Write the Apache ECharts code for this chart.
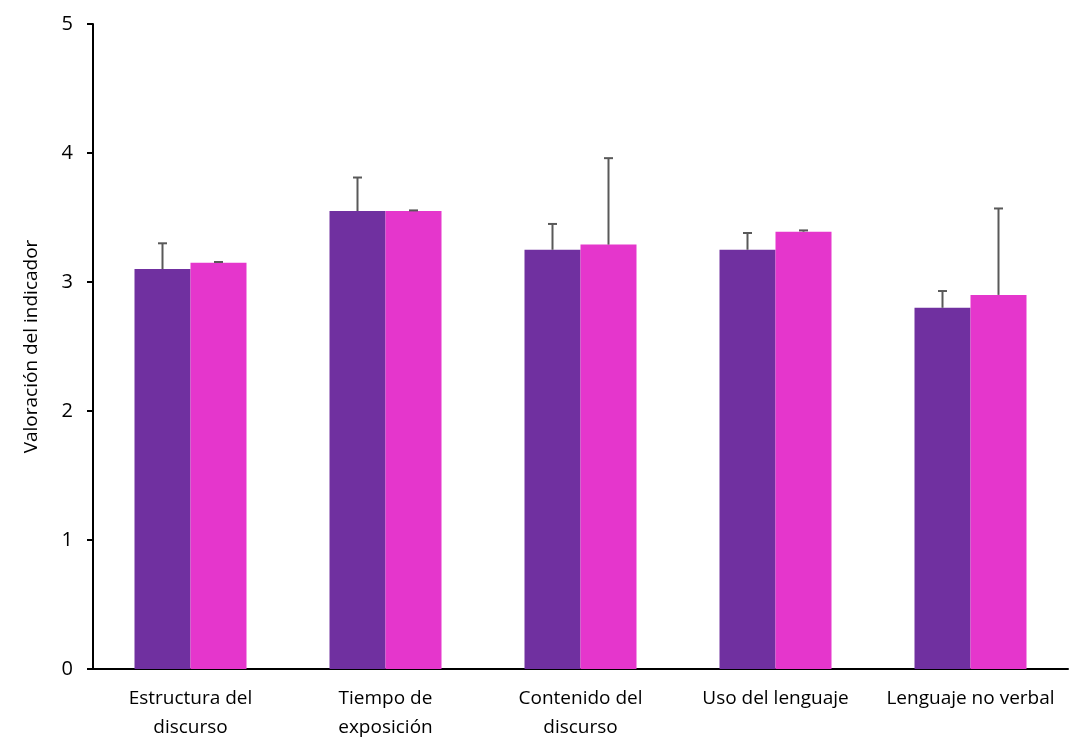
<!DOCTYPE html>
<html>
<head>
<meta charset="utf-8">
<script src="https://cdn.jsdelivr.net/npm/echarts@6/dist/echarts.min.js"></script>
<style>
  html, body { margin: 0; padding: 0; background: #fff; }
  #chart { width: 1092px; height: 753px; }
</style>
</head>
<body>
<div id="chart"></div>
<script>
// Data
var categories = ['Estructura del\ndiscurso', 'Tiempo de\nexposición', 'Contenido del\ndiscurso', 'Uso del lenguaje', 'Lenguaje no verbal'];
var serieA = [3.10, 3.55, 3.25, 3.25, 2.80];
var serieB = [3.15, 3.55, 3.29, 3.39, 2.90];
var errorA = [0.20, 0.26, 0.20, 0.13, 0.13];
var errorB = [0.005, 0.005, 0.67, 0.01, 0.67];
var yTicks = [0, 1, 2, 3, 4, 5];

var colorA = '#7030a0';
var colorB = '#e536cc';
var barW = 56;

var chart = echarts.init(document.getElementById('chart'), null, { renderer: 'canvas' });

// error bar drawn above each bar, shifted to the bar's centre
function errorItem(values, errors, offset) {
  return function (params, api) {
    var i = api.value(0);
    var top = api.coord([i, values[i] + errors[i]]);
    var base = api.coord([i, values[i]]);
    var x = top[0] + offset;
    var style = { stroke: '#595959', lineWidth: 2 };
    return {
      type: 'group',
      children: [
        { type: 'line', shape: { x1: x, y1: base[1], x2: x, y2: top[1] }, style: style },
        { type: 'line', shape: { x1: x - 4.5, y1: top[1], x2: x + 4.5, y2: top[1] }, style: style }
      ]
    };
  };
}

chart.setOption({
  animation: false,
  grid: { left: 93, right: 24, top: 24, bottom: 84 },
  xAxis: {
    type: 'category',
    data: categories,
    axisLine: { lineStyle: { color: '#000', width: 2 } },
    axisTick: { show: false },
    axisLabel: {
      color: '#000', fontSize: 19, lineHeight: 29, margin: 15,
      fontFamily: 'Open Sans', interval: 0
    }
  },
  yAxis: {
    type: 'value',
    min: 0, max: 5, interval: 1,
    name: 'Valoración del indicador',
    nameLocation: 'middle',
    nameGap: 52,
    nameTextStyle: { color: '#000', fontSize: 19, fontFamily: 'Open Sans' },
    axisLine: { show: true, lineStyle: { color: '#000', width: 2 } },
    axisTick: { show: true, length: 6, lineStyle: { color: '#000', width: 2 } },
    axisLabel: {
      color: '#000', fontSize: 20, margin: 20, fontFamily: 'Open Sans',
      formatter: function (v) { return yTicks.indexOf(v) >= 0 ? String(v) : ''; }
    },
    splitLine: { show: false }
  },
  series: [
    { type: 'bar', data: serieA, barWidth: barW, barGap: '0%', itemStyle: { color: colorA } },
    { type: 'bar', data: serieB, barWidth: barW, barGap: '0%', itemStyle: { color: colorB } },
    {
      type: 'custom', z: 10,
      data: categories.map(function (c, i) { return [i]; }),
      renderItem: errorItem(serieA, errorA, -barW / 2)
    },
    {
      type: 'custom', z: 10,
      data: categories.map(function (c, i) { return [i]; }),
      renderItem: errorItem(serieB, errorB, barW / 2)
    }
  ]
});

window.addEventListener('resize', chart.resize);
</script>
</body>
</html>
